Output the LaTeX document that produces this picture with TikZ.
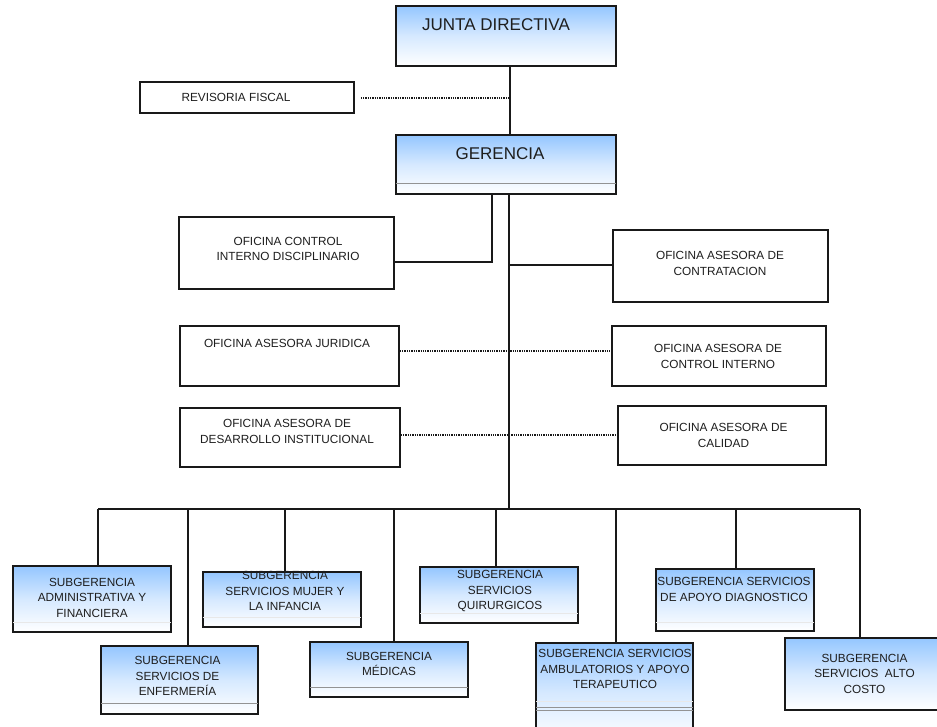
\documentclass[tikz,border=0pt]{standalone}
\usepackage{fontspec}
\setmainfont{Liberation Sans}
\definecolor{blueTop}{RGB}{148,198,255}
\definecolor{blueMid}{RGB}{214,233,255}
\definecolor{boxline}{RGB}{25,25,25}
\definecolor{ink}{RGB}{30,30,30}
\begin{document}
\begin{tikzpicture}[x=1pt,y=-1pt,
  box/.style={draw=boxline, line width=1.7pt, rectangle, inner sep=0pt},
  shadedbox/.style={box, top color=blueTop, bottom color=white, middle color=blueMid},
  txt/.style={font=\fontsize{11.8}{15.5}\selectfont, align=center, inner sep=0pt, text=ink},
  bigtxt/.style={txt, font=\fontsize{17}{20}\selectfont},
  link/.style={line width=1.4pt, draw=boxline},
  dotlink/.style={line width=2pt, draw=boxline, dash pattern=on 1.3pt off 1pt},
  rule/.style={line width=0.8pt, shorten <=0.9pt, shorten >=0.9pt},
  sep/.style={rule, draw=gray!85},
  faint/.style={rule, draw=gray!18},
]
\useasboundingbox[fill=white] (0,0) rectangle (937,726);

% ---- boxes ----
\node[shadedbox, minimum width=220, minimum height=60] (jd) at (506,36) {};
\node[box, minimum width=214, minimum height=31] (rf) at (247,97.5) {};
\node[shadedbox, minimum width=220, minimum height=59] (ger) at (506,164.5) {};
\node[box, minimum width=215, minimum height=72] (ocid) at (286.5,253) {};
\node[box, minimum width=215, minimum height=72] (contr) at (720.5,266) {};
\node[box, minimum width=219, minimum height=60] (jur) at (289.5,356) {};
\node[box, minimum width=214, minimum height=60] (cint) at (719,356) {};
\node[box, minimum width=220, minimum height=59] (des) at (290,437.5) {};
\node[box, minimum width=208, minimum height=59] (cal) at (722,435.5) {};

\node[shadedbox, minimum width=158, minimum height=66] (admin) at (92,599) {};
\node[shadedbox, minimum width=158, minimum height=55] (mujer) at (282,599.5) {};
\node[shadedbox, minimum width=158, minimum height=56] (quir) at (499,595) {};
\node[shadedbox, minimum width=158, minimum height=62] (apoyo) at (735,600) {};
\node[shadedbox, minimum width=157, minimum height=68] (enf) at (179.5,680) {};
\node[shadedbox, minimum width=158, minimum height=55] (med) at (389,669.5) {};
\node[shadedbox, minimum width=157, minimum height=100] (amb) at (614.5,693) {};
\node[shadedbox, minimum width=154, minimum height=72] (alto) at (862,674) {};

% ---- footer rules inside the boxes ----
\draw[sep] ([yshift=11pt]ger.south west) -- ([yshift=11pt]ger.south east);
\draw[sep] ([yshift=11pt]enf.south west) -- ([yshift=11pt]enf.south east);
\draw[sep] ([yshift=10pt]med.south west) -- ([yshift=10pt]med.south east);
\draw[faint] ([yshift=10pt]admin.south west) -- ([yshift=10pt]admin.south east);
\draw[faint] ([yshift=10pt]mujer.south west) -- ([yshift=10pt]mujer.south east);
\draw[faint] ([yshift=10pt]quir.south west) -- ([yshift=10pt]quir.south east);
\draw[faint] ([yshift=9pt]apoyo.south west) -- ([yshift=9pt]apoyo.south east);
\draw[faint] ([yshift=-59pt]amb.north west) -- ([yshift=-59pt]amb.north east);
\draw[sep] ([yshift=-65pt]amb.north west) -- ([yshift=-65pt]amb.north east);
\draw[sep] ([yshift=-68pt]amb.north west) -- ([yshift=-68pt]amb.north east);

% ---- texts ----
\node[bigtxt] (t-jd) at (496,25) {JUNTA DIRECTIVA};
\node[txt] (t-rf) at (236,97) {REVISORIA FISCAL};
\node[bigtxt] (t-ger) at (500,154) {GERENCIA};
\node[txt] (t-ocid) at (288,249) {OFICINA CONTROL\\INTERNO DISCIPLINARIO};
\node[txt] (t-contr) at (720,263.5) {OFICINA ASESORA DE\\CONTRATACION};
\node[txt] (t-jur) at (287,343) {OFICINA ASESORA JURIDICA};
\node[txt] (t-cint) at (718,356.5) {OFICINA ASESORA DE\\CONTROL INTERNO};
\node[txt] (t-des) at (287,431.5) {OFICINA ASESORA DE\\DESARROLLO INSTITUCIONAL};
\node[txt] (t-cal) at (723.5,435.5) {OFICINA ASESORA DE\\CALIDAD};

\node[txt] (t-admin) at (92,597.5) {SUBGERENCIA\\ADMINISTRATIVA Y\\FINANCIERA};
\node[txt] (t-mujer) at (285,591) {SUBGERENCIA\\SERVICIOS MUJER Y\\LA INFANCIA};
\node[txt] (t-quir) at (500,591) {SUBGERENCIA\\SERVICIOS\\QUIRURGICOS};
\node[txt] (t-apoyo) at (734,589.5) {SUBGERENCIA SERVICIOS\\DE APOYO DIAGNOSTICO};
\node[txt] (t-enf) at (177.5,676) {SUBGERENCIA\\SERVICIOS DE\\ENFERMERÍA};
\node[txt] (t-med) at (389,664) {SUBGERENCIA\\MÉDICAS};
\node[txt] (t-amb) at (615,669) {SUBGERENCIA SERVICIOS\\AMBULATORIOS Y APOYO\\TERAPEUTICO};
\node[txt] (t-alto) at (864.5,673.5) {SUBGERENCIA\\SERVICIOS\ \ ALTO\\COSTO};

% ---- connectors ----
\coordinate (ax) at (510,0);
\draw[link] (ax |- jd.south) -- (ax |- ger.north);

\coordinate (rv) at (510,98);
\draw[dotlink, shorten <=6pt] (rf.east |- rv) -- (rv);

\coordinate (gL) at (492,262);
\draw[link] (gL |- ger.south) -- (gL) -- (ocid.east |- gL);

\coordinate (tk) at (509,509);
\draw[link] (tk |- ger.south) -- (tk);
\coordinate (tc) at (509,265);
\draw[link] (tc) -- (tc -| contr.west);

\coordinate (dj) at (0,351);
\draw[dotlink] (jur.east |- dj) -- (cint.west |- dj);
\coordinate (dd) at (0,435);
\draw[dotlink] (des.east |- dd) -- (cal.west |- dd);

\coordinate (bl) at (98,509);
\coordinate (br) at (860,509);
\draw[link] (bl) -- (br);
\foreach \xx/\nm in {98/admin,188/enf,285/mujer,394/med,496/quir,616/amb,736/apoyo,860/alto}{
  \coordinate (d-\nm) at (\xx,509);
  \draw[link] (d-\nm) -- (d-\nm |- \nm.north);
}
\end{tikzpicture}
\end{document}
